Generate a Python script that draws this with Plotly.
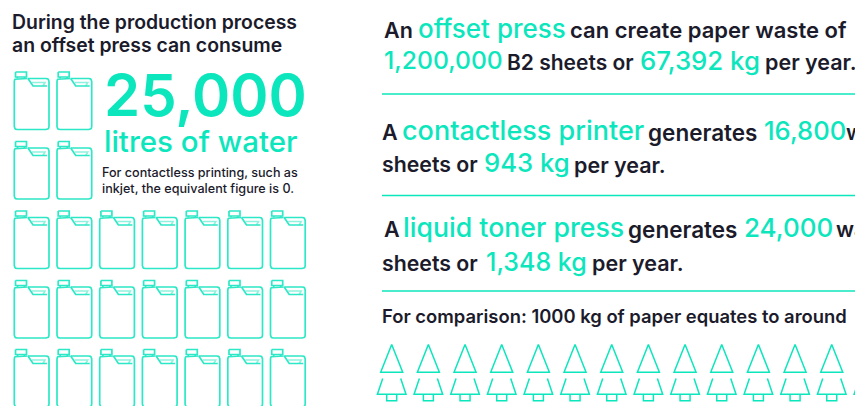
import plotly.graph_objects as go

TEAL = "#0CE6BD"
DARK = "#1B1B2B"
FONT = "Inter"

# Data: pictogram counts and the text of the infographic
jug_rows = [2, 2, 7, 7, 7]
tree_count = 14
headline = ["During the production process", "an offset press can consume"]
big_number = "25,000"
big_unit = "litres of water"
note = ["For contactless printing, such as", "inkjet, the equivalent figure is 0."]

JUG_COL0, JUG_DX = 14, 42.7
JUG_ROW_TOPS = [71.5, 141, 210.5, 280, 349]
TREE_X0, TREE_DX = 391.7, 36.67


def rounded(points, r):
    """Polyline through points with rounded interior corners."""
    out = [points[0]]
    for i in range(1, len(points) - 1):
        (ax, ay), (bx, by), (cx, cy) = points[i - 1], points[i], points[i + 1]
        la = max(((ax - bx) ** 2 + (ay - by) ** 2) ** 0.5, 1e-6)
        lc = max(((cx - bx) ** 2 + (cy - by) ** 2) ** 0.5, 1e-6)
        p0 = (bx + (ax - bx) * r / la, by + (ay - by) * r / la)
        p2 = (bx + (cx - bx) * r / lc, by + (cy - by) * r / lc)
        for k in range(7):
            t = k / 6
            out.append(((1 - t) ** 2 * p0[0] + 2 * t * (1 - t) * bx + t * t * p2[0],
                        (1 - t) ** 2 * p0[1] + 2 * t * (1 - t) * by + t * t * p2[1]))
    out.append(points[-1])
    return out


def add_path(xs, ys, pts, ox, oy):
    xs.extend([p[0] + ox for p in pts] + [None])
    ys.extend([p[1] + oy for p in pts] + [None])


JUG_BODY = rounded([(13.5, 7), (0.3, 7), (0.3, 58), (35, 58), (35, 7), (14, 7)], 3)
JUG_CAP = [(1.5, 0.5), (12.5, 0.5), (12.5, 5.5), (1.5, 5.5), (1.5, 0.5)]
JUG_NECK_L = [(3.5, 5.5), (3.5, 7)]
JUG_NECK_R = [(10.5, 5.5), (10.5, 7)]
JUG_SLANT = [(14, 7), (19, 14.5), (33, 14.5)]
JUG_HANDLE = [(18, 11), (31, 11), (29, 14.5)]

jx, jy, hx, hy = [], [], [], []
for row, n in enumerate(jug_rows):
    for col in range(n):
        ox, oy = JUG_COL0 + col * JUG_DX, JUG_ROW_TOPS[row]
        for part in (JUG_BODY, JUG_CAP, JUG_SLANT, JUG_NECK_L, JUG_NECK_R):
            add_path(jx, jy, part, ox, oy)
        add_path(hx, hy, JUG_HANDLE, ox, oy)

TREE_TOP = [(0, 344.5), (11, 372.3), (-11, 372.3), (0, 344.5)]
TREE_L = [(-9, 378.5), (-14.3, 394.3), (14.3, 394.3), (9, 378.5)]
TREE_TRUNK = [(-5, 394.3), (-5, 400.7), (5, 400.7), (5, 394.3)]
tx, ty = [], []
for i in range(tree_count):
    ox = TREE_X0 + i * TREE_DX
    for part in (TREE_TOP, TREE_L, TREE_TRUNK):
        add_path(tx, ty, part, ox, 0)

fig = go.Figure()
fig.add_trace(go.Scatter(x=hx, y=hy, mode="lines", hoverinfo="skip",
                         line=dict(color="#8FF2DE", width=1.6)))
fig.add_trace(go.Scatter(x=jx, y=jy, mode="lines", hoverinfo="skip",
                         line=dict(color="#2DE8C6", width=1.7)))
fig.add_trace(go.Scatter(x=tx, y=ty, mode="lines", hoverinfo="skip",
                         line=dict(color=TEAL, width=1.5)))
for y in (94, 195.5, 291):
    fig.add_shape(type="line", x0=382, x1=855, y0=y, y1=y,
                  line=dict(color=TEAL, width=1.5), xref="x", yref="y")


def label(text, x, y, size, color=DARK, weight=600):
    fig.add_annotation(text=text, x=x, y=y, xref="x", yref="y", xanchor="left",
                       yanchor="middle", showarrow=False, borderpad=0, borderwidth=0,
                       font=dict(family=FONT, size=size, color=color, weight=weight))


label(headline[0], 12, 22, 19.4)
label(headline[1], 12, 45, 19.4)
label(big_number, 104, 95, 58, TEAL, 600)
label(big_unit, 104, 141, 29.5, TEAL, 500)
label(note[0], 102, 172, 12.6, DARK, 500)
label(note[1], 102, 188, 12.6, DARK, 500)

label("An", 384, 30, 21.5)
label("offset press", 418, 28, 26, TEAL, 500)
label("can create paper waste of", 570, 30, 22)
label("1,200,000", 384, 60, 24.7, TEAL, 500)
label("B2 sheets or", 507, 62, 21)
label("67,392 kg", 640, 60, 25.8, TEAL, 500)
label("per year.", 765, 62, 21.5)

label("A", 382, 132, 21.5)
label("contactless printer", 402, 130, 27, TEAL, 500)
label("generates", 648, 132, 22.5)
label("16,800", 764, 130, 25.6, TEAL, 500)
label("waste", 846, 132, 21.5)
label("sheets or", 382, 164, 21.3)
label("943 kg", 484, 162, 25.7, TEAL, 500)
label("per year.", 574, 165, 21.5)

label("A", 384, 229, 21.5)
label("liquid toner press", 403, 227, 26.7, TEAL, 500)
label("generates", 628, 229, 22.5)
label("24,000", 744, 227, 26, TEAL, 500)
label("waste", 836, 229, 21.5)
label("sheets or", 382, 263, 21.3)
label("1,348 kg", 486, 262, 25, TEAL, 500)
label("per year.", 592, 263, 21.5)

label("For comparison: 1000 kg of paper equates to around", 382, 316, 18.4)

fig.update_layout(
    width=855, height=406, margin=dict(l=0, r=0, t=0, b=0),
    paper_bgcolor="white", plot_bgcolor="white", showlegend=False,
    xaxis=dict(range=[0, 855], visible=False, fixedrange=True),
    yaxis=dict(range=[406, 0], visible=False, fixedrange=True),
)
fig.write_html("out.html", config={"displayModeBar": False},
               post_script="document.body.style.margin='0';document.documentElement.style.overflow='hidden';")
